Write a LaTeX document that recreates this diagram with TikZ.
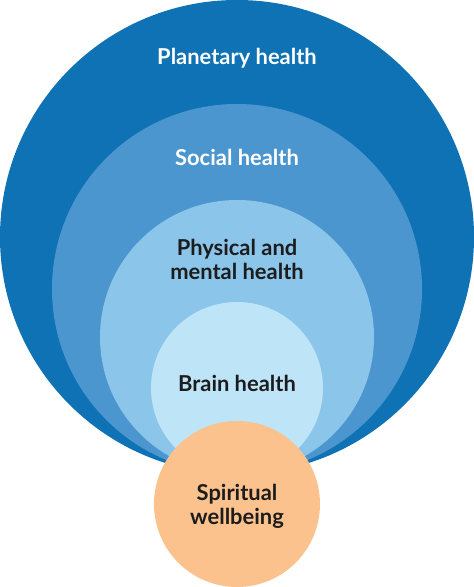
\documentclass[tikz,border=0pt]{standalone}
\usepackage{fontspec}
\setmainfont{Lato}
\definecolor{planet}{HTML}{0E72B5}
\definecolor{social}{HTML}{4C96D0}
\definecolor{phys}{HTML}{8CC5EA}
\definecolor{brain}{HTML}{BEE4F8}
\definecolor{spirit}{HTML}{FBC28D}
\definecolor{ink}{HTML}{1C1C1C}
\begin{document}
\begin{tikzpicture}[x=1bp,y=1bp,
  lbl/.style={font=\fontsize{22}{24}\selectfont\bfseries, align=center, inner sep=0pt},
  disc/.style={circle, inner sep=0pt, draw=none}]
\useasboundingbox (0,0) rectangle (474,587);
\fill[white] (0,0) rectangle (474,587);
\node[disc, fill=planet, minimum size=474bp] (planet) at (237,350) {};
\node[disc, fill=social, minimum size=370bp] (social) at (237,298) {};
\node[disc, fill=phys, minimum size=274bp] (phys) at (237,250) {};
\node[disc, fill=brain, minimum size=172bp] (brain) at (237,199) {};
\node[disc, fill=spirit, minimum size=166bp] (spirit) at (237,83) {};
\node[lbl, text=white] (tplanet) at (237,529) {Planetary health};
\node[lbl, text=white] (tsocial) at (237,430) {Social health};
\node[lbl, text=ink] (tphys) at (237,328) {Physical and\\mental health};
\node[lbl, text=ink] (tbrain) at (237,204) {Brain health};
\node[lbl, text=ink] (tspirit) at (237,81) {Spiritual\\wellbeing};
\end{tikzpicture}
\end{document}
